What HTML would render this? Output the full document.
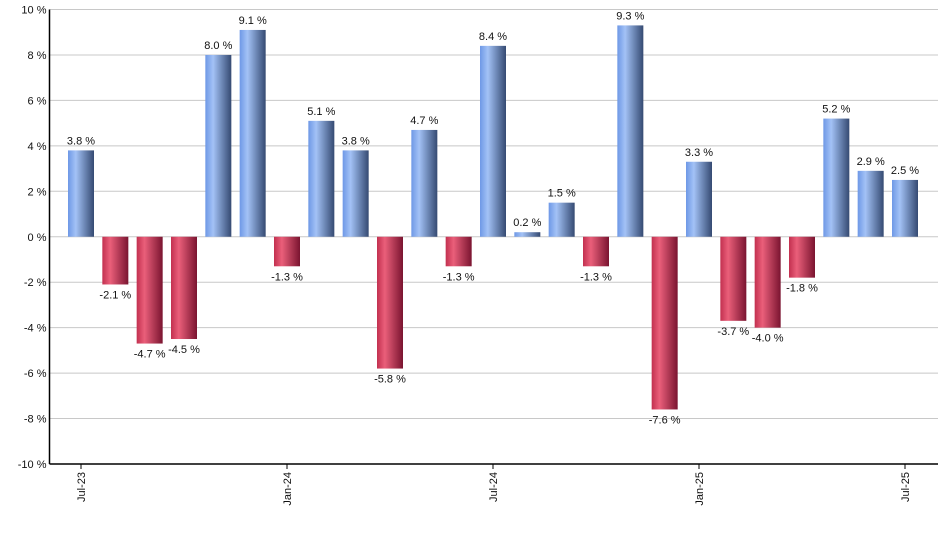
<!DOCTYPE html>
<html><head><meta charset="utf-8"><style>
body{margin:0;background:#fff}
svg text{font-family:"Liberation Sans",Arial,sans-serif;font-size:11px;fill:#111}
</style></head><body>
<svg id="chart" width="940" height="550" xmlns="http://www.w3.org/2000/svg">
<defs>
<linearGradient id="gBlue" x1="0" x2="1" y1="0" y2="0">
<stop offset="0" stop-color="#6e98e6"/><stop offset="0.3" stop-color="#a3c2f6"/><stop offset="1" stop-color="#354a72"/>
</linearGradient>
<linearGradient id="gRed" x1="0" x2="1" y1="0" y2="0">
<stop offset="0" stop-color="#c2304f"/><stop offset="0.3" stop-color="#ea5f7a"/><stop offset="1" stop-color="#7a1430"/>
</linearGradient>
</defs>
<g id="grid"></g><g id="bars"></g><g id="axes"></g>
</svg>
<script>
const months=["Jul-23","Aug-23","Sep-23","Oct-23","Nov-23","Dec-23","Jan-24","Feb-24","Mar-24","Apr-24","May-24","Jun-24","Jul-24","Aug-24","Sep-24","Oct-24","Nov-24","Dec-24","Jan-25","Feb-25","Mar-25","Apr-25","May-25","Jun-25","Jul-25"];
const returns=[3.8,-2.1,-4.7,-4.5,8.0,9.1,-1.3,5.1,3.8,-5.8,4.7,-1.3,8.4,0.2,1.5,-1.3,9.3,-7.6,3.3,-3.7,-4.0,-1.8,5.2,2.9,2.5];
const yTicks=[-10,-8,-6,-4,-2,0,2,4,6,8,10];
const xLabelIdx=[0,6,12,18,24];
const NS="http://www.w3.org/2000/svg";
const L=49.5,R=938,T=9.5,B=464;
const y=v=>T+(10-v)/20*(B-T);
const x0=81,step=(905-81)/24;
const x=i=>x0+i*step;
const bw=26;
function mk(tag,attrs,parent,txt){const e=document.createElementNS(NS,tag);for(const k in attrs)e.setAttribute(k,attrs[k]);if(txt!==undefined)e.textContent=txt;parent.appendChild(e);return e;}
const grid=document.getElementById('grid'),bars=document.getElementById('bars'),axes=document.getElementById('axes');
yTicks.forEach(t=>{
  const ln=mk('line',{x1:L,x2:R,y1:y(t),y2:y(t),stroke:'#c8c8c8','stroke-width':1},grid);
  
  
  const tx=mk('text',{x:L-3,y:y(t)+4,'text-anchor':'end'},axes,t+' %');
  
  
});
returns.forEach((v,i)=>{
  const top=Math.min(y(v),y(0)),h=Math.abs(y(v)-y(0));
  const r=mk('rect',{x:x(i)-bw/2,y:top,width:bw,height:Math.max(h,1),fill:v>=0?'url(#gBlue)':'url(#gRed)'},bars);
  
  
  const ly=v>=0?y(v)-6:y(v)+14;
  const t=mk('text',{x:x(i),y:ly,'text-anchor':'middle'},bars,v.toFixed(1)+' %');
  
  
});
const ya=mk('line',{x1:L,x2:L,y1:T,y2:B,stroke:'#000','stroke-width':1.5},axes);


const xa=mk('line',{x1:L,x2:R,y1:B,y2:B,stroke:'#000','stroke-width':1.5},axes);


xLabelIdx.forEach(i=>{
  const tk=mk('line',{x1:x(i),x2:x(i),y1:B,y2:B+5,stroke:'#000'},axes);
  
  
  const t=mk('text',{x:0,y:0,'text-anchor':'end',transform:`translate(${x(i)+4},${B+8}) rotate(-90)`},axes,months[i]);
  
  
});
</script>
</body></html>
